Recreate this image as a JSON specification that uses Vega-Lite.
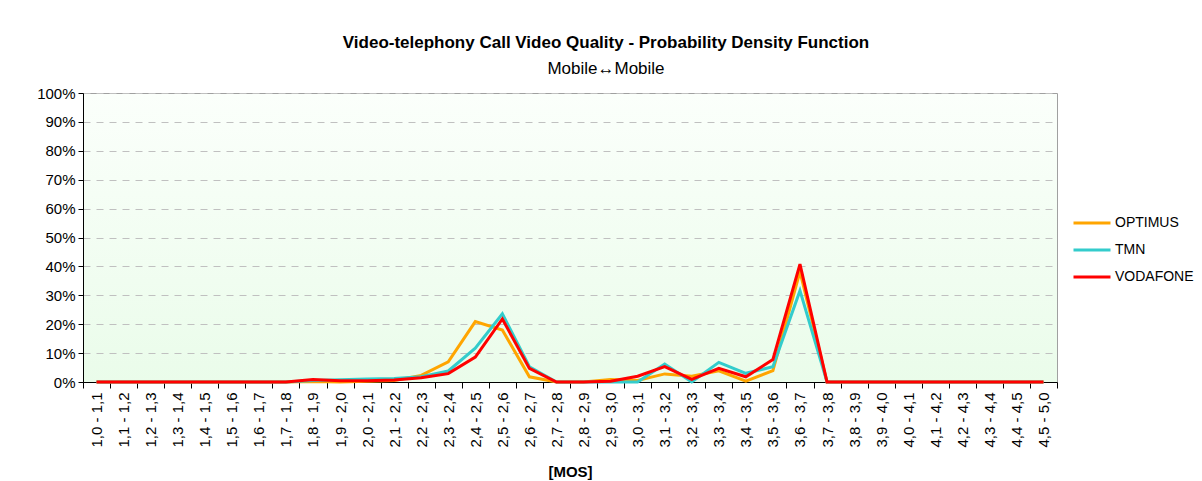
{
  "$schema": "https://vega.github.io/schema/vega-lite/v6.json",
  "autosize": "none",
  "width": 974,
  "height": 289,
  "padding": {"left": 83, "top": 93, "right": 145, "bottom": 99},
  "background": "white",
  "title": {
    "text": "Video-telephony Call Video Quality - Probability Density Function",
    "subtitle": "Mobile↔Mobile",
    "font": "Liberation Sans",
    "fontSize": 17,
    "fontWeight": "bold",
    "color": "black",
    "subtitleFont": "Liberation Sans",
    "subtitleFontSize": 17,
    "subtitleColor": "black",
    "subtitlePadding": 9,
    "anchor": "middle",
    "dx": 36,
    "offset": 8
  },
  "datasets": {
    "pdf": [
      {"bin": "1,0 - 1,1", "OPTIMUS": 0, "TMN": 0, "VODAFONE": 0},
      {"bin": "1,1 - 1,2", "OPTIMUS": 0, "TMN": 0, "VODAFONE": 0},
      {"bin": "1,2 - 1,3", "OPTIMUS": 0, "TMN": 0, "VODAFONE": 0},
      {"bin": "1,3 - 1,4", "OPTIMUS": 0, "TMN": 0, "VODAFONE": 0},
      {"bin": "1,4 - 1,5", "OPTIMUS": 0, "TMN": 0, "VODAFONE": 0},
      {"bin": "1,5 - 1,6", "OPTIMUS": 0, "TMN": 0, "VODAFONE": 0},
      {"bin": "1,6 - 1,7", "OPTIMUS": 0, "TMN": 0, "VODAFONE": 0},
      {"bin": "1,7 - 1,8", "OPTIMUS": 0, "TMN": 0, "VODAFONE": 0},
      {"bin": "1,8 - 1,9", "OPTIMUS": 0.002, "TMN": 0.005, "VODAFONE": 0.009},
      {"bin": "1,9 - 2,0", "OPTIMUS": 0, "TMN": 0.008, "VODAFONE": 0.004},
      {"bin": "2,0 - 2,1", "OPTIMUS": 0.003, "TMN": 0.010, "VODAFONE": 0.004},
      {"bin": "2,1 - 2,2", "OPTIMUS": 0.005, "TMN": 0.012, "VODAFONE": 0.007},
      {"bin": "2,2 - 2,3", "OPTIMUS": 0.023, "TMN": 0.018, "VODAFONE": 0.015},
      {"bin": "2,3 - 2,4", "OPTIMUS": 0.070, "TMN": 0.038, "VODAFONE": 0.029},
      {"bin": "2,4 - 2,5", "OPTIMUS": 0.209, "TMN": 0.117, "VODAFONE": 0.086},
      {"bin": "2,5 - 2,6", "OPTIMUS": 0.180, "TMN": 0.236, "VODAFONE": 0.218},
      {"bin": "2,6 - 2,7", "OPTIMUS": 0.018, "TMN": 0.053, "VODAFONE": 0.047},
      {"bin": "2,7 - 2,8", "OPTIMUS": 0, "TMN": 0, "VODAFONE": 0},
      {"bin": "2,8 - 2,9", "OPTIMUS": 0, "TMN": 0, "VODAFONE": 0},
      {"bin": "2,9 - 3,0", "OPTIMUS": 0.009, "TMN": 0, "VODAFONE": 0.003},
      {"bin": "3,0 - 3,1", "OPTIMUS": 0.005, "TMN": 0, "VODAFONE": 0.020},
      {"bin": "3,1 - 3,2", "OPTIMUS": 0.028, "TMN": 0.062, "VODAFONE": 0.053},
      {"bin": "3,2 - 3,3", "OPTIMUS": 0.020, "TMN": 0, "VODAFONE": 0.009},
      {"bin": "3,3 - 3,4", "OPTIMUS": 0.039, "TMN": 0.068, "VODAFONE": 0.047},
      {"bin": "3,4 - 3,5", "OPTIMUS": 0.003, "TMN": 0.030, "VODAFONE": 0.018},
      {"bin": "3,5 - 3,6", "OPTIMUS": 0.039, "TMN": 0.053, "VODAFONE": 0.078},
      {"bin": "3,6 - 3,7", "OPTIMUS": 0.382, "TMN": 0.316, "VODAFONE": 0.408},
      {"bin": "3,7 - 3,8", "OPTIMUS": 0, "TMN": 0, "VODAFONE": 0},
      {"bin": "3,8 - 3,9", "OPTIMUS": 0, "TMN": 0, "VODAFONE": 0},
      {"bin": "3,9 - 4,0", "OPTIMUS": 0, "TMN": 0, "VODAFONE": 0},
      {"bin": "4,0 - 4,1", "OPTIMUS": 0, "TMN": 0, "VODAFONE": 0},
      {"bin": "4,1 - 4,2", "OPTIMUS": 0, "TMN": 0, "VODAFONE": 0},
      {"bin": "4,2 - 4,3", "OPTIMUS": 0, "TMN": 0, "VODAFONE": 0},
      {"bin": "4,3 - 4,4", "OPTIMUS": 0, "TMN": 0, "VODAFONE": 0},
      {"bin": "4,4 - 4,5", "OPTIMUS": 0, "TMN": 0, "VODAFONE": 0},
      {"bin": "4,5 - 5,0", "OPTIMUS": 0, "TMN": 0, "VODAFONE": 0}
    ]
  },
  "data": {"name": "pdf"},
  "transform": [
    {"fold": ["OPTIMUS", "TMN", "VODAFONE"], "as": ["operator", "share"]}
  ],
  "mark": {"type": "line", "strokeWidth": 3, "strokeJoin": "miter"},
  "encoding": {
    "x": {
      "field": "bin",
      "type": "ordinal",
      "sort": null,
      "bandPosition": 0.5,
      "scale": {"type": "band", "paddingInner": 0, "paddingOuter": 0},
      "axis": {
        "title": "[MOS]",
        "titleFont": "Liberation Sans",
        "titleFontSize": 15,
        "titleFontWeight": "bold",
        "titleColor": "black",
        "titleDx": -80,
        "titlePadding": 17,
        "labelAngle": -90,
        "labelFont": "Liberation Sans",
        "labelFontSize": 15,
        "labelColor": "black",
        "labelPadding": 4,
        "tickBand": "extent",
        "tickColor": "black",
        "tickSize": 6,
        "domainColor": "black",
        "grid": false
      }
    },
    "y": {
      "field": "share",
      "type": "quantitative",
      "scale": {"domain": [0, 1], "nice": false},
      "axis": {
        "title": null,
        "values": [0, 0.1, 0.2, 0.3, 0.4, 0.5, 0.6, 0.7, 0.8, 0.9, 1],
        "format": ".0%",
        "labelFont": "Liberation Sans",
        "labelFontSize": 15,
        "labelColor": "black",
        "labelPadding": 3,
        "tickColor": "black",
        "tickSize": 5,
        "domainColor": "black",
        "grid": true,
        "gridColor": "#c0c0c0",
        "gridDash": [7, 6]
      }
    },
    "color": {
      "field": "operator",
      "type": "nominal",
      "scale": {"domain": ["OPTIMUS", "TMN", "VODAFONE"], "range": ["#FFA500", "#33CCCC", "#FF0000"]},
      "legend": {
        "title": null,
        "orient": "none",
        "legendX": 989,
        "legendY": 110,
        "symbolType": "stroke",
        "symbolSize": 1369,
        "symbolStrokeWidth": 3,
        "rowPadding": -3,
        "labelFont": "Liberation Sans",
        "labelFontSize": 14,
        "labelColor": "black",
        "labelOffset": 3
      }
    }
  },
  "config": {
    "view": {
      "stroke": "#a0a0a0",
      "fill": {
        "gradient": "linear",
        "x1": 0, "y1": 0, "x2": 0, "y2": 1,
        "stops": [
          {"offset": 0, "color": "#fbfffb"},
          {"offset": 1, "color": "#eafcea"}
        ]
      }
    }
  }
}
